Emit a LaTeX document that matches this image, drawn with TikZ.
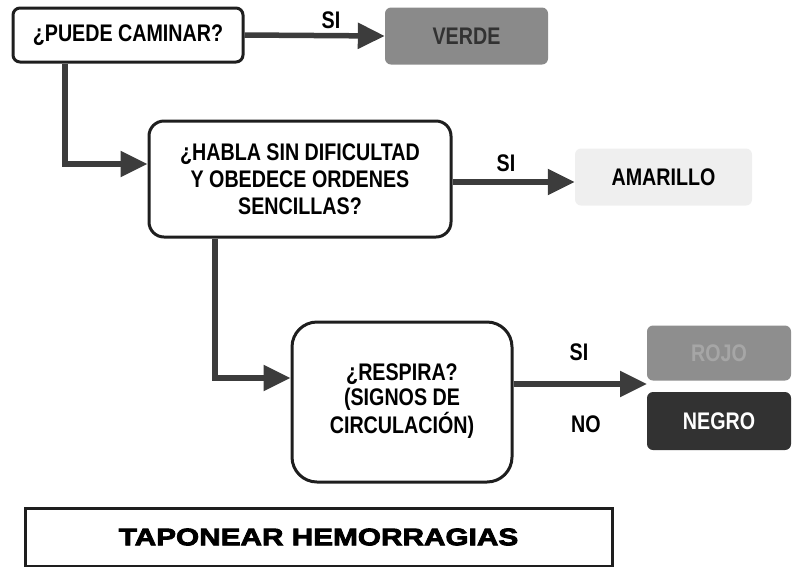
\documentclass[tikz,border=0pt]{standalone}
\usepackage{fontspec}
\setmainfont{Liberation Sans}
\newfontfamily\nbold[FakeStretch=0.82]{Liberation Sans Bold}
\newfontfamily\hbold[FakeStretch=1.24,FakeBold=3.5]{Liberation Sans Bold}
\usetikzlibrary{arrows.meta}
\definecolor{arrgray}{HTML}{3C3C3C}
\definecolor{boxline}{HTML}{1E1E1E}
\definecolor{verdefill}{HTML}{8A8A8A}
\definecolor{amfill}{HTML}{EFEFEF}
\definecolor{rojofill}{HTML}{8E8E8E}
\definecolor{rojotext}{HTML}{A6A6A6}
\definecolor{negrofill}{HTML}{323232}
\tikzset{
  qbox/.style={draw=boxline, line width=3pt, fill=white, align=center,
    font=\nbold\fontsize{24}{27}\selectfont, inner sep=0pt},
  cbox/.style={rounded corners=6pt, inner sep=0pt, align=center,
    font=\nbold\fontsize{24}{25}\selectfont},
  arr/.style={draw=arrgray, line width=5.5pt,
    -{Triangle[length=27pt,width=25pt]}},
  lbl/.style={font=\nbold\fontsize{24}{24}\selectfont, inner sep=0pt}
}
\begin{document}
\begin{tikzpicture}[x=1pt,y=-1pt]
\useasboundingbox (0,0) rectangle (794,566);
% question boxes
\node[qbox, rounded corners=7pt, minimum width=230pt, minimum height=54pt] (b1) at (128,35) {¿PUEDE CAMINAR?};
\node[qbox, rounded corners=15pt, minimum width=302pt, minimum height=116pt] (b2) at (300,179)
  {¿HABLA SIN DIFICULTAD\\Y OBEDECE ORDENES\\SENCILLAS?};
\node[qbox, rounded corners=25pt, minimum width=220pt, minimum height=160pt] (b3) at (402,402)
  {\raisebox{-5pt}{\fontsize{24}{25}\selectfont\begin{tabular}{@{}c@{}}¿RESPIRA?\\(SIGNOS DE\\CIRCULACIÓN)\end{tabular}}};
% colour boxes
\node[cbox, fill=verdefill, text=negrofill, minimum width=163pt, minimum height=57pt] (verde) at (466.5,36) {VERDE};
\node[cbox, fill=amfill, text=black, minimum width=177pt, minimum height=57pt] (amarillo) at (663.5,177) {AMARILLO};
\node[cbox, fill=rojofill, text=rojotext, minimum width=144pt, minimum height=55pt] (rojo) at (719,353) {ROJO};
\node[cbox, fill=negrofill, text=white, minimum width=144pt, minimum height=58pt] (negro) at (719,421) {NEGRO};
% bottom box
\node[draw=boxline, line width=3pt, minimum width=587pt, minimum height=58pt, inner sep=0pt,
  font=\hbold\fontsize{24}{28}\selectfont] (tap) at (318.5,537) {TAPONEAR HEMORRAGIAS};
% arrows
\coordinate (tipR) at (647,384);
\draw[arr] (b1.east) -- (verde.west);
\draw[arr] (b2.east |- 0,182) -- (amarillo.west |- 0,182);
\draw[arr] (b3.east |- tipR) -- (tipR);
\draw[arr] ([xshift=-63pt]b1.south) |- ([yshift=15pt]b2.west);
\draw[arr] ([xshift=-85pt]b2.south) |- ([yshift=24pt]b3.west);
% labels
\node[lbl] (s1) at (331,20) {SI};
\node[lbl] (s2) at (506,163) {SI};
\node[lbl] (s3) at (579,352) {SI};
\node[lbl] (n3) at (586,424) {NO};
\end{tikzpicture}
\end{document}
